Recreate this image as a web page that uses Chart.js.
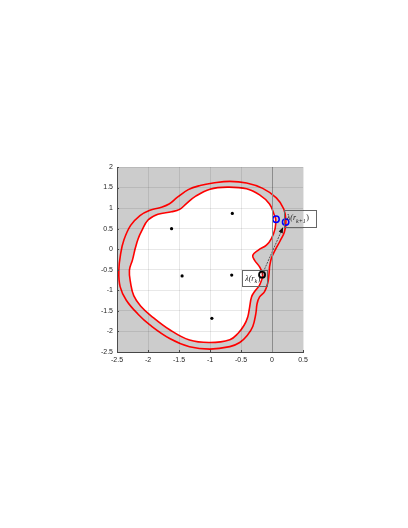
<!DOCTYPE html>
<html>
<head>
<meta charset="utf-8">
<script src="https://cdn.jsdelivr.net/npm/chart.js@4/dist/chart.umd.min.js"></script>
<style>
  html, body { margin: 0; padding: 0; background: #fff; }
  #wrap { width: 408px; height: 528px; }
</style>
</head>
<body>
<div id="wrap"><canvas id="chart" width="408" height="528"></canvas></div>
<script>
const xTicks = [-2.5, -2, -1.5, -1, -0.5, 0, 0.5];
const yTicks = [-2.5, -2, -1.5, -1, -0.5, 0, 0.5, 1, 1.5, 2];

// outer boundary (clockwise, starting on the straight right-hand stretch)
const outerX = [-0.04, -0.05, -0.07, -0.12, -0.20, -0.24, -0.26, -0.31, -0.40, -0.52, -0.68, -1.0, -1.33,
  -1.65, -1.97, -2.16, -2.35, -2.45, -2.47, -2.44, -2.39, -2.28, -2.13, -1.97, -1.81, -1.66, -1.53, -1.35,
  -1.16, -0.95, -0.68, -0.41, -0.15, 0.07, 0.19, 0.225, 0.20, 0.13, 0.05, -0.01, -0.04];
const outerY = [-0.43, -0.63, -0.83, -1.03, -1.16, -1.32, -1.56, -1.88, -2.10, -2.27, -2.37, -2.43, -2.37,
  -2.17, -1.84, -1.58, -1.24, -0.91, -0.50, -0.10, 0.22, 0.58, 0.82, 0.95, 1.01, 1.10, 1.26, 1.45,
  1.55, 1.61, 1.65, 1.61, 1.48, 1.25, 0.98, 0.68, 0.42, 0.20, -0.02, -0.22, -0.43];

// inner boundary (clockwise, starting on the left-hand stretch)
const innerX = [-2.21, -2.16, -2.10, -2.0, -1.84, -1.62, -1.49, -1.38, -1.23, -1.0, -0.72, -0.41, -0.20,
  -0.04, 0.04, 0.06, 0.05, -0.01, -0.09, -0.22, -0.31, -0.28, -0.20, -0.15, -0.20, -0.28, -0.33, -0.36,
  -0.39, -0.45, -0.55, -0.68, -1.0, -1.33, -1.65, -1.95, -2.12, -2.23, -2.28, -2.30, -2.25, -2.21];
const innerY = [0.0, 0.25, 0.45, 0.71, 0.85, 0.91, 0.97, 1.11, 1.29, 1.46, 1.51, 1.47, 1.32,
  1.10, 0.82, 0.73, 0.50, 0.26, 0.10, -0.02, -0.15, -0.27, -0.43, -0.63, -0.87, -1.03, -1.16, -1.40,
  -1.64, -1.85, -2.05, -2.20, -2.27, -2.21, -1.96, -1.62, -1.38, -1.13, -0.83, -0.51, -0.26, 0.0];

const centerX = [-0.64, -1.62, -1.45, -0.65, -0.97];
const centerY = [0.87, 0.50, -0.65, -0.63, -1.68];
const blueX = [0.065, 0.22];
const blueY = [0.73, 0.66];
const rkX = [-0.16];
const rkY = [-0.62];
const arrowX = [-0.16, 0.18];
const arrowY = [-0.62, 0.54];

// label boxes: [xmin, xmax, ymin, ymax] in data units
const labelRk = { main: "λ(r", sub: "k", tail: ")", box: [-0.48, -0.07, -0.91, -0.51] };
const labelRk1 = { main: "λ(r", sub: "k+1", tail: ")", box: [0.19, 0.70, 0.54, 0.96] };

const toPts = (xs, ys) => xs.map((x, i) => ({ x, y: ys[i] }));

const plotBg = {
  id: "plotBg",
  beforeDraw(chart) {
    const { ctx, chartArea: a } = chart;
    ctx.save();
    ctx.fillStyle = "#cccccc";
    ctx.fillRect(a.left, a.top, a.right - a.left, a.bottom - a.top);
    ctx.restore();
  }
};

function drawLabel(chart, lab) {
  const { ctx, scales } = chart;
  const x0 = scales.x.getPixelForValue(lab.box[0]);
  const x1 = scales.x.getPixelForValue(lab.box[1]);
  const y0 = scales.y.getPixelForValue(lab.box[3]);
  const y1 = scales.y.getPixelForValue(lab.box[2]);
  ctx.save();
  ctx.strokeStyle = "#666666";
  ctx.lineWidth = 1;
  ctx.strokeRect(Math.round(x0) + 0.5, Math.round(y0) + 0.5, Math.round(x1 - x0), Math.round(y1 - y0));
  const cy = (y0 + y1) / 2;
  ctx.fillStyle = "#222222";
  ctx.textBaseline = "middle";
  ctx.font = "italic 8px 'Liberation Serif'";
  let tx = x0 + 3;
  ctx.fillText(lab.main, tx, cy);
  tx += ctx.measureText(lab.main).width;
  ctx.font = "italic 6px 'Liberation Serif'";
  ctx.fillText(lab.sub, tx, cy + 3);
  tx += ctx.measureText(lab.sub).width + 0.5;
  ctx.font = "8px 'Liberation Serif'";
  ctx.fillText(lab.tail, tx, cy);
  ctx.restore();
}

const annotations = {
  id: "annotations",
  afterDatasetsDraw(chart) {
    const { ctx, scales, chartArea: a } = chart;
    const ax = scales.x.getPixelForValue(arrowX[0]);
    const ay = scales.y.getPixelForValue(arrowY[0]);
    const bx = scales.x.getPixelForValue(arrowX[1]);
    const by = scales.y.getPixelForValue(arrowY[1]);
    const ang = Math.atan2(by - ay, bx - ax);
    ctx.save();
    ctx.strokeStyle = "#333333";
    ctx.lineWidth = 0.8;
    ctx.setLineDash([2, 1]);
    ctx.beginPath();
    ctx.moveTo(ax, ay);
    ctx.lineTo(bx - 4 * Math.cos(ang), by - 4 * Math.sin(ang));
    ctx.stroke();
    ctx.setLineDash([]);
    ctx.fillStyle = "#111111";
    ctx.beginPath();
    ctx.moveTo(bx, by);
    ctx.lineTo(bx - 6 * Math.cos(ang) + 2.2 * Math.sin(ang), by - 6 * Math.sin(ang) - 2.2 * Math.cos(ang));
    ctx.lineTo(bx - 6 * Math.cos(ang) - 2.2 * Math.sin(ang), by - 6 * Math.sin(ang) + 2.2 * Math.cos(ang));
    ctx.closePath();
    ctx.fill();

    // small inward tick marks on the left and bottom axes
    ctx.strokeStyle = "#4d4d4d";
    ctx.lineWidth = 1;
    ctx.beginPath();
    xTicks.forEach((v) => {
      const px = Math.round(scales.x.getPixelForValue(v)) + 0.5;
      ctx.moveTo(px, a.bottom);
      ctx.lineTo(px, a.bottom - 2);
    });
    yTicks.forEach((v) => {
      const py = Math.round(scales.y.getPixelForValue(v)) + 0.5;
      ctx.moveTo(a.left, py);
      ctx.lineTo(a.left + 2, py);
    });
    ctx.stroke();
    ctx.restore();

    drawLabel(chart, labelRk);
    drawLabel(chart, labelRk1);
  }
};

const tickFont = { family: "'Liberation Sans', Arial, sans-serif", size: 7 };

new Chart(document.getElementById("chart"), {
  type: "scatter",
  data: {
    datasets: [
      {
        label: "rk",
        data: toPts(rkX, rkY),
        pointRadius: 3,
        pointBorderWidth: 1.8,
        pointBorderColor: "#000000",
        pointBackgroundColor: "rgba(0,0,0,0)",
        showLine: false
      },
      {
        label: "blue",
        data: toPts(blueX, blueY),
        pointRadius: 3.2,
        pointBorderWidth: 1.5,
        pointBorderColor: "#0000ff",
        pointBackgroundColor: "rgba(0,0,0,0)",
        showLine: false
      },
      {
        label: "centers",
        data: toPts(centerX, centerY),
        pointRadius: 1.6,
        pointBorderWidth: 0,
        pointBackgroundColor: "#000000",
        showLine: false
      },
      {
        label: "outer",
        data: toPts(outerX, outerY),
        showLine: true,
        borderColor: "#ff0000",
        borderWidth: 1.6,
        pointRadius: 0,
        tension: 0.4,
        fill: false
      },
      {
        label: "inner",
        data: toPts(innerX, innerY),
        showLine: true,
        borderColor: "#ff0000",
        borderWidth: 1.6,
        pointRadius: 0,
        tension: 0.4,
        fill: "shape",
        backgroundColor: "#ffffff"
      }
    ]
  },
  options: {
    responsive: false,
    animation: false,
    events: [],
    layout: { padding: { left: 0, right: 105, top: 167, bottom: 156 } },
    plugins: { legend: { display: false }, tooltip: { enabled: false } },
    scales: {
      x: {
        type: "linear",
        min: -2.5,
        max: 0.5,
        afterBuildTicks: (s) => { s.ticks = xTicks.map((v) => ({ value: v })); },
        afterFit: (s) => { s.height = 20; },
        grid: {
          z: 1,
          drawTicks: false,
          color: (c) => (c.tick && c.tick.value === 0 ? "#8c8c8c" : "rgba(0,0,0,0.09)")
        },
        border: { color: "#4d4d4d", width: 1, z: 1 },
        ticks: { color: "#262626", font: tickFont, padding: 4, maxRotation: 0, callback: (v) => String(v) }
      },
      y: {
        type: "linear",
        min: -2.5,
        max: 2,
        afterBuildTicks: (s) => { s.ticks = yTicks.map((v) => ({ value: v })); },
        afterFit: (s) => { s.width = 117; },
        grid: { z: 1, drawTicks: false, color: "rgba(0,0,0,0.09)" },
        border: { color: "#4d4d4d", width: 1, z: 1 },
        ticks: { color: "#262626", font: tickFont, padding: 4, callback: (v) => String(v) }
      }
    }
  },
  plugins: [plotBg, annotations]
});
</script>
</body>
</html>
